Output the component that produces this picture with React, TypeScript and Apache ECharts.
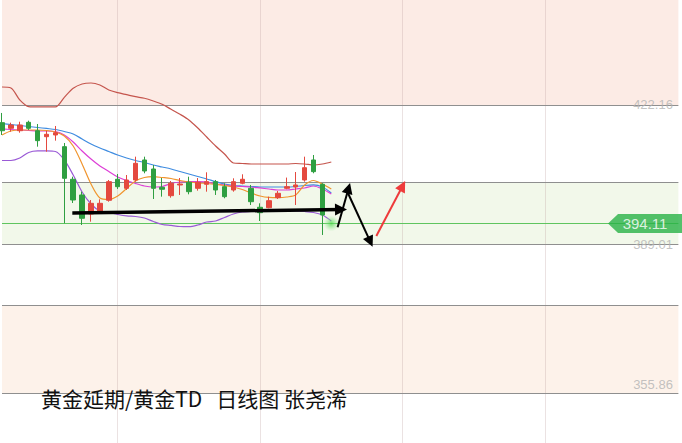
import React, { useEffect, useRef } from 'react';
import * as echarts from 'echarts';

// category slots (no visible dates in the picture)
const days = Array.from({ length: 77 }, (_, i) => 'D' + (i + 1));

// [open, close, low, high]
const candles = [
  [417.97, 416.07, 415.06, 420.27],
  [416.64, 417.42, 415.84, 417.97],
  [416.07, 417.42, 415.6, 418.2],
  [418.06, 416.64, 416.24, 418.44],
  [416.07, 413.71, 412.29, 417.66],
  [414.65, 415.22, 411.1, 416.07],
  [415.06, 415.6, 413.71, 417.19],
  [412.29, 404.8, 394.15, 413.16],
  [404.57, 399.66, 398.95, 405.18],
  [400.85, 395.33, 393.74, 401.63],
  [396.35, 398.88, 394.53, 399.66],
  [396.89, 398.88, 396.52, 399.83],
  [399.59, 404.0, 399.26, 404.4],
  [404.57, 402.81, 402.27, 405.82],
  [402.43, 404.4, 402.03, 405.58],
  [404.4, 408.35, 404.0, 409.92],
  [409.14, 406.53, 405.99, 409.92],
  [407.0, 402.43, 399.9, 407.95],
  [402.67, 402.2, 400.45, 404.87],
  [400.68, 403.62, 400.21, 404.16],
  [403.22, 403.45, 400.85, 404.87],
  [403.86, 401.63, 401.01, 405.18],
  [402.43, 403.86, 401.87, 404.87],
  [403.38, 404.0, 401.63, 406.22],
  [404.0, 402.03, 400.85, 404.4],
  [402.81, 400.45, 400.07, 403.62],
  [402.03, 404.0, 401.63, 404.8],
  [403.62, 404.57, 403.38, 405.75],
  [402.43, 399.26, 398.48, 403.22],
  [397.94, 396.66, 394.69, 398.88],
  [397.84, 399.5, 397.7, 400.45],
  [400.21, 401.25, 399.9, 401.8],
  [402.43, 402.81, 402.2, 404.97],
  [402.74, 403.22, 398.48, 406.29],
  [404.4, 407.31, 404.0, 409.92],
  [409.14, 406.37, 405.99, 410.32],
  [403.38, 396.11, 391.38, 403.62],
];

const upperBand = [426.42, 426.19, 423.34, 421.76, 421.69, 421.69, 421.69, 423.98, 426.11, 427.13, 427.37, 426.9, 425.71, 425.07, 424.6, 424.13, 423.75, 423.11, 422.33, 421.14, 419.96, 418.61, 416.71, 414.58, 412.45, 410.56, 408.43, 408.31, 408.19, 408.19, 408.19, 408.19, 408.19, 408.31, 408.19, 407.95, 408.19, 408.66];
const lowerBand = [409.02, 409.02, 409.61, 410.91, 411.27, 411.27, 411.15, 409.14, 405.58, 401.56, 398.72, 397.06, 396.7, 396.23, 395.88, 395.76, 395.4, 394.57, 393.86, 393.63, 393.39, 393.34, 393.74, 394.45, 394.69, 395.52, 396.35, 396.82, 396.94, 397.06, 397.06, 397.06, 397.06, 397.06, 396.94, 396.7, 396.11, 394.69];
const maBlue = [417.78, 417.54, 417.31, 417.07, 416.83, 416.6, 416.36, 415.88, 415.29, 414.11, 412.92, 411.98, 411.15, 410.32, 409.61, 409.02, 408.54, 407.95, 407.48, 407.0, 406.41, 405.82, 405.23, 404.64, 404.0, 403.45, 403.1, 402.98, 402.86, 402.74, 402.74, 402.74, 402.74, 402.86, 403.1, 403.22, 402.74, 401.32];
const maMagenta = [416.48, 416.36, 416.24, 416.12, 416.0, 416.0, 415.88, 415.06, 413.4, 411.27, 409.37, 407.72, 406.41, 405.11, 404.28, 403.57, 402.98, 402.74, 402.86, 403.57, 403.93, 404.0, 404.0, 403.93, 403.45, 403.22, 402.98, 402.86, 402.74, 402.51, 402.27, 402.03, 402.03, 402.27, 402.51, 402.98, 402.27, 401.08];
const maOrange = [415.06, 416.0, 416.24, 416.24, 416.24, 416.12, 415.77, 414.82, 412.45, 408.19, 403.45, 400.14, 399.78, 400.61, 402.39, 404.16, 404.99, 405.18, 404.99, 404.76, 404.28, 403.93, 403.69, 403.57, 403.38, 403.1, 402.74, 402.15, 401.32, 400.61, 400.26, 400.21, 400.37, 400.85, 403.22, 404.28, 403.45, 402.27];

// price levels
const axisLabels = [422.16, 389.01, 355.86];
const greyLevels = [422.16, 403.81, 389.24, 374.8, 353.96];
const lastPrice = 394.11;
const gridColumns = [13, 29, 45, 61];
const bands = [
  { from: 447.02, to: 422.16, color: '#fcebe5' },
  { from: 403.81, to: 389.24, color: '#f2f8ea' },
  { from: 374.8, to: 353.96, color: '#fdf2ea' },
];

// hand-drawn annotations [slot, price]
const trendArrow = [[7.9, 396.59], [38.09, 397.41]];
const zigUp = [[37.71, 393.2], [38.94, 402.43]];
const zigDown = [[38.88, 401.25], [41.38, 389.79]];
const redArrow = [[42.06, 391.14], [45.01, 402.98]];

const RED = '#e4493f';
const GREEN = '#2f9f41';

export default function App() {
  const ref = useRef<HTMLDivElement>(null);
  useEffect(() => {
    if (!ref.current) return;
    const chart = echarts.init(ref.current, null, { renderer: 'svg' });
    const lineS = (data: number[], color: string) => ({
      type: 'line',
      data,
      smooth: 0.3,
      showSymbol: false,
      silent: true,
      z: 2,
      lineStyle: { color, width: 1.2 },
    });
    chart.setOption({
      animation: false,
      backgroundColor: '#ffffff',
      title: {
        text: '黄金延期/黄金TD   日线图 张尧浠',
        left: 41,
        top: 387,
        padding: 0,
        textStyle: { fontSize: 21, fontWeight: 'normal', color: '#111', fontFamily: 'Noto Sans CJK SC' },
      },
      grid: { left: 2, right: 3.6, top: 0, bottom: 0 },
      xAxis: [
        { type: 'category', data: days, boundaryGap: false, show: false },
        { type: 'value', min: 0, max: 76, show: false },
      ],
      yAxis: { type: 'value', min: 342.12, max: 447.02, show: false },
      series: [
        {
          type: 'candlestick',
          data: candles,
          barWidth: 5,
          z: 3,
          clip: false,
          itemStyle: { color: RED, color0: GREEN, borderColor: RED, borderColor0: GREEN, borderWidth: 1 },
          markArea: {
            silent: true,
            z: 1,
            data: bands.map((b) => [{ yAxis: b.from, itemStyle: { color: b.color } }, { yAxis: b.to }]),
          },
          markLine: {
            silent: true,
            symbol: 'none',
            z: 1.5,
            label: { show: false },
            data: [
              ...gridColumns.map((c) => ({ xAxis: c, lineStyle: { color: 'rgba(190,160,160,0.3)', width: 1, type: 'solid' } })),
              ...greyLevels.map((v) => ({ yAxis: v, lineStyle: { color: '#8f8f8f', width: 1, type: 'solid' } })),
              { yAxis: lastPrice, lineStyle: { color: '#5fc55f', width: 1, type: 'solid' } },
            ],
          },
        },
        lineS(upperBand, '#c5554d'),
        lineS(lowerBand, '#9a5ad6'),
        lineS(maBlue, '#3f8ce0'),
        lineS(maMagenta, '#dd3fd6'),
        lineS(maOrange, '#f0952e'),
        {
          type: 'scatter',
          data: [[37, lastPrice]],
          symbolSize: 16,
          silent: true,
          z: 4,
          itemStyle: {
            color: new echarts.graphic.RadialGradient(0.5, 0.5, 0.5, [
              { offset: 0, color: 'rgba(70,215,70,0.95)' },
              { offset: 0.45, color: 'rgba(110,225,110,0.6)' },
              { offset: 1, color: 'rgba(150,235,150,0)' },
            ]),
          },
        },
        {
          type: 'lines',
          coordinateSystem: 'cartesian2d',
          xAxisIndex: 1,
          yAxisIndex: 0,
          z: 6,
          silent: true,
          symbol: ['none', 'triangle'],
          symbolSize: [11, 12],
          lineStyle: { color: '#000', width: 3.5, opacity: 1 },
          data: [{ coords: trendArrow }],
        },
        {
          type: 'lines',
          coordinateSystem: 'cartesian2d',
          xAxisIndex: 1,
          yAxisIndex: 0,
          z: 6,
          silent: true,
          symbol: ['none', 'triangle'],
          symbolSize: [8, 11],
          lineStyle: { color: '#000', width: 2, opacity: 1 },
          data: [{ coords: zigUp }, { coords: zigDown }],
        },
        {
          type: 'lines',
          coordinateSystem: 'cartesian2d',
          xAxisIndex: 1,
          yAxisIndex: 0,
          z: 6,
          silent: true,
          symbol: ['none', 'triangle'],
          symbolSize: [8, 11],
          lineStyle: { color: '#ee3b3b', width: 2, opacity: 1 },
          data: [{ coords: redArrow }],
        },
        {
          type: 'scatter',
          xAxisIndex: 1,
          yAxisIndex: 0,
          silent: true,
          z: 7,
          data: axisLabels.map((v) => [76, v]),
          symbolSize: 1,
          itemStyle: { color: 'rgba(0,0,0,0)' },
          label: {
            show: true,
            position: 'left',
            distance: 5,
            formatter: (p: any) => p.value[1].toFixed(2),
            color: '#b3b3b3',
            fontSize: 13,
            fontFamily: 'Liberation Sans, Arial, sans-serif',
          },
        },
        {
          type: 'scatter',
          xAxisIndex: 1,
          yAxisIndex: 0,
          silent: true,
          z: 8,
          data: [[72.25, lastPrice]],
          symbol: 'path://M0,9 L10,0 L74,0 L74,18 L10,18 Z',
          symbolSize: [74, 19],
          itemStyle: { color: '#28b246' },
          label: {
            show: true,
            position: 'inside',
            offset: [0, 0],
            formatter: () => lastPrice.toFixed(2),
            color: '#ffffff',
            fontSize: 15,
            fontFamily: 'Liberation Sans, Arial, sans-serif',
          },
        },
      ],
    });
    return () => chart.dispose();
  }, []);
  return <div ref={ref} style={{ position: 'fixed', left: 0, top: 0, width: 682, height: 443 }} />;
}
